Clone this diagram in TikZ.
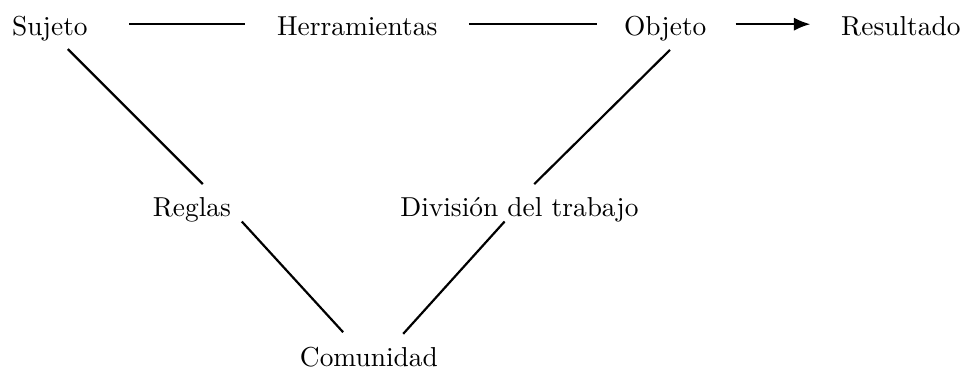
\documentclass[tikz,border=0pt]{standalone}
\usepackage{tikz}
\usetikzlibrary{arrows.meta}
\tikzstyle{actlabel} = [rectangle,
text height=2.2ex,
text depth=0.35ex]
\tikzstyle{actline} = [line width=0.8pt]

\begin{document}
\begin{tikzpicture}
		\useasboundingbox (0,0) rectangle (12.36,4.73);
		\node (suj) [actlabel] at (0.64,4.42) {Sujeto};
		\node (herr) [actlabel] at (4.58,4.42) {Herramientas};
		\node (obj) [actlabel] at (8.53,4.42) {Objeto};
		\node (res) [actlabel] at (11.55,4.42) {Resultado};
		\node (reg) [actlabel] at (2.46,2.09) {Reglas};
		\node (div) [actlabel] at (6.66,2.09) {Divisi\'on del trabajo};
		\node (com) [actlabel] at (4.73,0.17) {Comunidad};
		
		\draw [actline, shorten <=0.41cm, shorten >=0.29cm](suj) -- (herr);
		\draw [actline, shorten <=0.28cm, shorten >=0.22cm](herr) -- (obj);
		\draw [actline, -{Latex[length=6pt, width=4.8pt]}, shorten <=0.25cm, shorten >=0.27cm](obj) -- (res);
		\draw [actline]([shift={(0.23,-0.32)}]suj.center) -- ([shift={(0.14,0.28)}]reg.center);
		\draw [actline]([shift={(0.06,-0.33)}]obj.center) -- ([shift={(0.19,0.28)}]div.center);
		\draw [actline]([shift={(0.64,-0.2)}]reg.center) -- ([shift={(-0.33,0.3)}]com.center);
		\draw [actline]([shift={(-0.19,-0.2)}]div.center) -- ([shift={(0.44,0.28)}]com.center);
	\end{tikzpicture}
\end{document}
